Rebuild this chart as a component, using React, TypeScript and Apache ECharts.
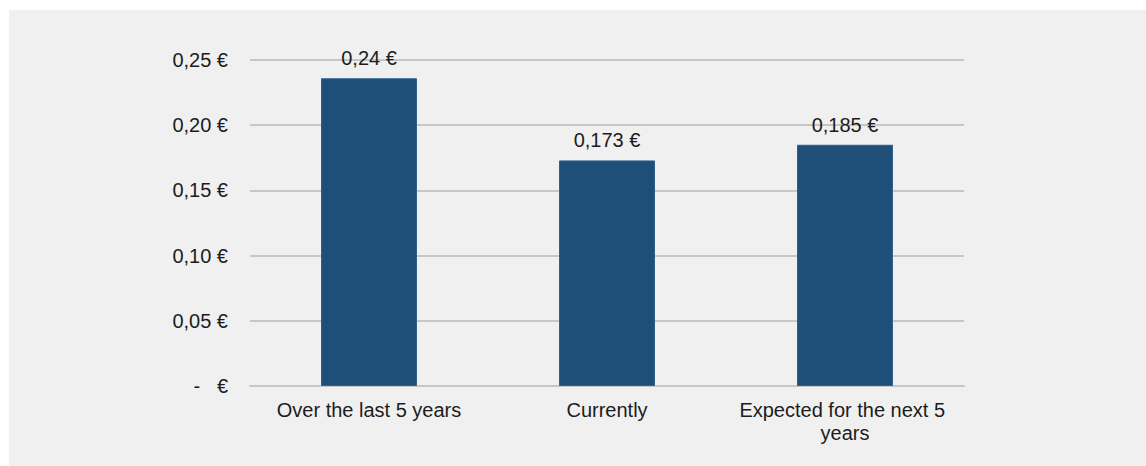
import React, { useEffect, useRef } from "react";
import * as echarts from "echarts";

const categories = ["Over the last 5 years", "Currently", "Expected for the next 5 years"];
const values = [0.236, 0.173, 0.185];
const valueLabels = ["0,24 €", "0,173 €", "0,185 €"];
const yTickLabels = ["-   €", "0,05 €", "0,10 €", "0,15 €", "0,20 €", "0,25 €"];

const FONT = "'Liberation Sans', Arial, sans-serif";
const TEXT = "#1c1c1c";

export default function App() {
  const ref = useRef<HTMLDivElement>(null);
  useEffect(() => {
    if (!ref.current) return;
    const chart = echarts.init(ref.current, null, { renderer: "svg" });
    chart.setOption({
      animation: false,
      backgroundColor: "#f0f0f0",
      grid: { left: 241, right: 182, top: 50, bottom: 80 },
      xAxis: {
        type: "category",
        data: categories,
        axisTick: { show: false },
        axisLine: { show: true, lineStyle: { color: "#c6c6c6", width: 2 } },
        axisLabel: {
          color: TEXT,
          fontFamily: FONT,
          fontSize: 20,
          margin: 12,
          lineHeight: 23,
          width: 215,
          overflow: "break",
          interval: 0,
        },
      },
      yAxis: {
        type: "value",
        min: 0,
        max: 0.25,
        interval: 0.05,
        axisLine: { show: false },
        axisTick: { show: false },
        splitLine: { lineStyle: { color: "#c6c6c6", width: 2 } },
        axisLabel: {
          color: TEXT,
          fontFamily: FONT,
          fontSize: 20,
          margin: 22,
          formatter: (_v: number, i: number) => yTickLabels[i],
        },
      },
      series: [
        {
          type: "bar",
          data: values,
          barWidth: 96,
          itemStyle: { color: "#1f4e79", borderColor: "#2e5f8f", borderWidth: 1 },
          label: {
            show: true,
            position: "top",
            distance: 10,
            color: TEXT,
            fontFamily: FONT,
            fontSize: 20,
            formatter: (p: any) => valueLabels[p.dataIndex],
          },
        },
      ],
    });
    return () => chart.dispose();
  }, []);
  return (
    <div
      ref={ref}
      style={{ position: "absolute", left: 9, top: 10, width: 1137, height: 456 }}
    />
  );
}
